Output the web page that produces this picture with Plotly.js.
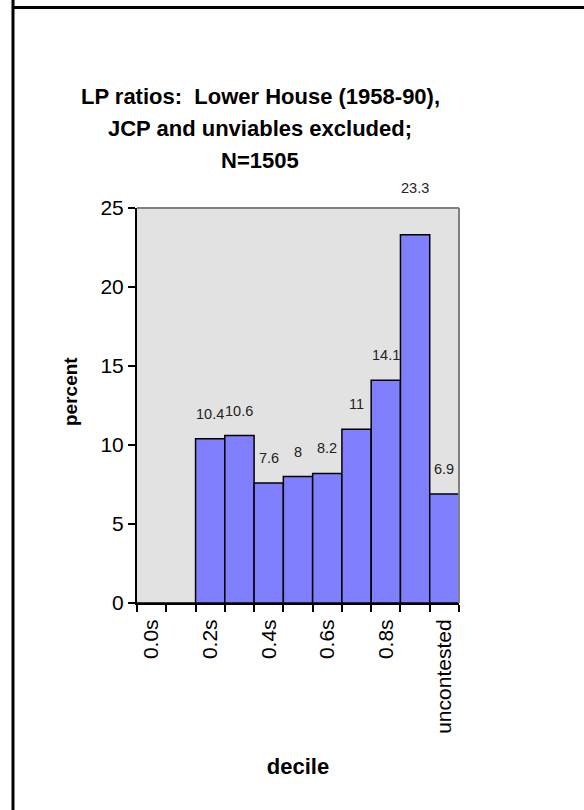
<!DOCTYPE html>
<html>
<head>
<meta charset="utf-8">
<script src="https://cdn.plot.ly/plotly-3.0.1.min.js"></script>
<style>
html,body{margin:0;padding:0;background:#fff;}
#chart{width:584px;height:810px;}
</style>
</head>
<body>
<div id="chart"></div>
<script>
// ---- data ----
const categories = ["0.0s","0.1s","0.2s","0.3s","0.4s","0.5s","0.6s","0.7s","0.8s","0.9s","uncontested"];
const percent = [0, 0, 10.4, 10.6, 7.6, 8, 8.2, 11, 14.1, 23.3, 6.9];
const tickLabelEvery = 2;
const titleLines = ["LP ratios:&nbsp; Lower House (1958-90),", "JCP and unviables excluded;", "N=1505"];
const xTitle = "decile";
const yTitle = "percent";

// ---- layout constants (pixels) ----
const W = 584, H = 810;
const L = 137, R = 125, T = 208, B = 207;
const pw = W - L - R, ph = H - T - B;
const px2x = p => (p - L) / pw;
const py2y = p => (H - B - p) / ph;

const idx = categories.map((c, i) => i);
const tickvals = idx.filter(i => i % tickLabelEvery === 0);
const ticktext = tickvals.map(i => categories[i]);

const trace = {
  type: 'bar',
  x: idx,
  y: percent,
  width: 1,
  marker: {color: '#8080ff', line: {color: '#000', width: 1.5}},
  hoverinfo: 'skip',
  customdata: categories
};

const font = 'Arial, "Liberation Sans", sans-serif';

const maxV = Math.max(...percent);
const annotations = [];
percent.forEach((v, i) => {
  if (v > 0) {
    annotations.push({
      x: i, y: v, xref: 'x', yref: 'y',
      text: String(v), showarrow: false,
      yshift: v === maxV ? 47 : 25,
      font: {family: font, size: 14.5, color: '#222'}
    });
  }
});
// title lines
titleLines.forEach((t, k) => {
  annotations.push({
    xref: 'paper', yref: 'paper', x: px2x(260), y: py2y(96 + 32 * k),
    xanchor: 'center', yanchor: 'middle', showarrow: false,
    text: '<b>' + t + '</b>',
    font: {family: font, size: 22, color: '#000'}
  });
});
// y axis title
annotations.push({
  xref: 'paper', yref: 'paper', x: px2x(70), y: py2y(392),
  xanchor: 'center', yanchor: 'middle', showarrow: false, textangle: -90,
  text: '<b>' + yTitle + '</b>',
  font: {family: font, size: 19, color: '#000'}
});

const shapes = [
  // grey frame top and right of plot area
  {type: 'line', xref: 'paper', yref: 'paper', x0: 0, x1: 1, y0: 1, y1: 1, line: {color: '#808080', width: 2}},
  {type: 'line', xref: 'paper', yref: 'paper', x0: 1, x1: 1, y0: 0, y1: 1, line: {color: '#808080', width: 2}},
  // outer chart border (left and top)
  {type: 'line', xref: 'paper', yref: 'paper', x0: px2x(13), x1: px2x(13), y0: py2y(0), y1: py2y(H), line: {color: '#000', width: 3}},
  {type: 'line', xref: 'paper', yref: 'paper', x0: px2x(12), x1: px2x(W + 2), y0: py2y(7.5), y1: py2y(7.5), line: {color: '#000', width: 3}}
];

const layout = {
  width: W, height: H,
  margin: {l: L, r: R, t: T, b: B, pad: 0},
  paper_bgcolor: '#fff',
  plot_bgcolor: '#e2e2e2',
  showlegend: false,
  bargap: 0,
  font: {family: font, color: '#000'},
  xaxis: {
    range: [-0.5, 10.5],
    tickvals: tickvals, ticktext: ticktext,
    tickangle: -90,
    ticks: '', showgrid: false, zeroline: false,
    showline: true, linecolor: '#000', linewidth: 2,
    tickfont: {family: font, size: 21, color: '#000'},
    ticklabelstandoff: 6,
    minor: {tick0: 0.5, dtick: 1, ticks: 'outside', ticklen: 7, tickwidth: 2, tickcolor: '#000', showgrid: false},
    title: {text: '<b>' + xTitle + '</b>', font: {family: font, size: 22, color: '#000'}, standoff: 26},
    automargin: false,
    fixedrange: true
  },
  yaxis: {
    range: [0, 25], dtick: 5, tick0: 0,
    ticks: 'outside', ticklen: 7, tickwidth: 2, tickcolor: '#000',
    showgrid: false, zeroline: false,
    showline: true, linecolor: '#000', linewidth: 2,
    tickfont: {family: font, size: 21, color: '#000'},
    automargin: false,
    fixedrange: true
  },
  annotations: annotations,
  shapes: shapes
};

Plotly.newPlot('chart', [trace], layout, {displayModeBar: false, staticPlot: true});
</script>
</body>
</html>
